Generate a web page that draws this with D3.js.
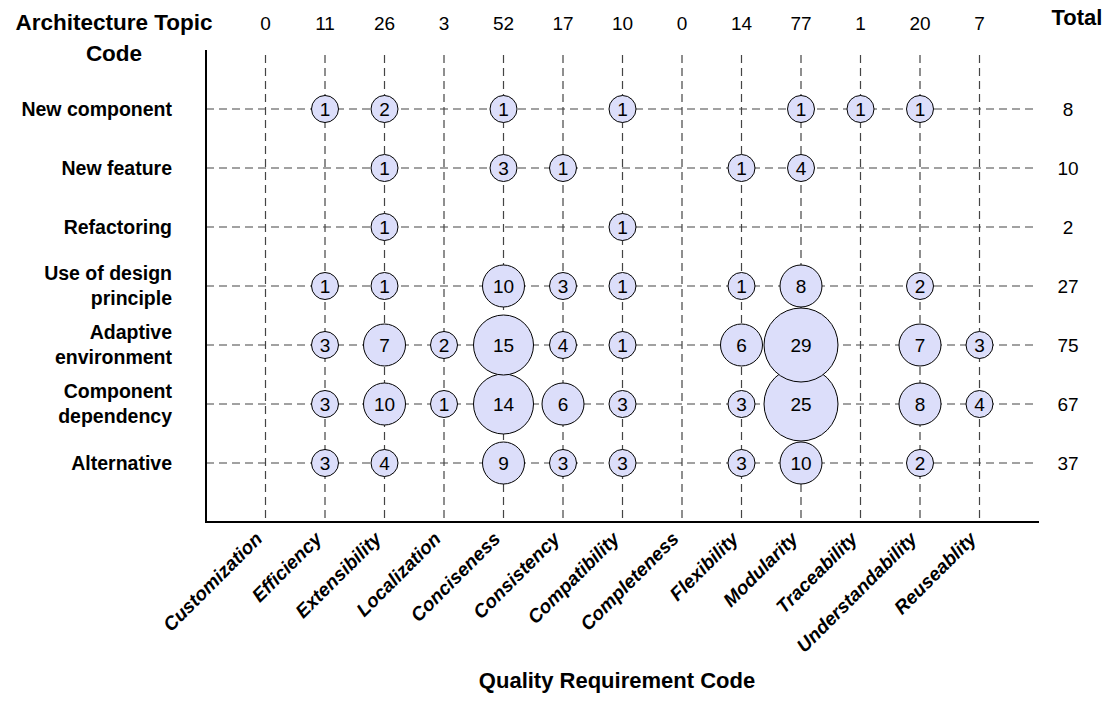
<!DOCTYPE html>
<html>
<head>
<meta charset="utf-8">
<script src="https://cdn.jsdelivr.net/npm/d3@7"></script>
<style>
    body { margin: 0; background: #fff; }
    svg text { font-family: "Liberation Sans", Arial, sans-serif; fill: #000; }
</style>
</head>
<body>
<svg id="chart" width="1112" height="704"></svg>
<script>
// quality requirement codes (x) and architecture topic codes (y)
var qualities = ["Customization", "Efficiency", "Extensibility", "Localization", "Conciseness",
    "Consistency", "Compatibility", "Completeness", "Flexibility", "Modularity",
    "Traceability", "Understandability", "Reuseablity"];
var topics = ["New component", "New feature", "Refactoring", "Use of design principle",
    "Adaptive environment", "Component dependency", "Alternative"];
var topicLines = [["New component"], ["New feature"], ["Refactoring"], ["Use of design", "principle"],
    ["Adaptive", "environment"], ["Component", "dependency"], ["Alternative"]];

// totals as printed on the chart
var columnTotals = [0, 11, 26, 3, 52, 17, 10, 0, 14, 77, 1, 20, 7];
var rowTotals = [8, 10, 2, 27, 75, 67, 37];

// counts per topic row, one value per quality column (0 = no bubble)
var newComponent    = [0, 1, 2, 0, 1, 0, 1, 0, 0, 1, 1, 1, 0];
var newFeature      = [0, 0, 1, 0, 3, 1, 0, 0, 1, 4, 0, 0, 0];
var refactoring     = [0, 0, 1, 0, 0, 0, 1, 0, 0, 0, 0, 0, 0];
var designPrinciple = [0, 1, 1, 0, 10, 3, 1, 0, 1, 8, 0, 2, 0];
var adaptiveEnv     = [0, 3, 7, 2, 15, 4, 1, 0, 6, 29, 0, 7, 3];
var componentDep    = [0, 3, 10, 1, 14, 6, 3, 0, 3, 25, 0, 8, 4];
var alternative     = [0, 3, 4, 0, 9, 3, 3, 0, 3, 10, 0, 2, 0];

var rows = [newComponent, newFeature, refactoring, designPrinciple, adaptiveEnv, componentDep, alternative];

var svg = d3.select("#chart");

var plotLeft = 206, plotRight = 1039, plotTop = 50, plotBottom = 522;

var x = d3.scalePoint().domain(qualities).range([plotLeft, plotRight]).padding(1);
var y = d3.scalePoint().domain(topics).range([109, 463]);

// bubble sizes come in steps
var r = d3.scaleThreshold().domain([5, 11, 20]).range([13.5, 21, 30, 37]);

// flatten to cells
var cells = [];
rows.forEach(function (vals, i) {
    vals.forEach(function (v, j) {
        if (v > 0) cells.push({ topic: topics[i], quality: qualities[j], value: v, row: i });
    });
});

var grid = svg.append("g").attr("class", "grid")
    .style("stroke", "#444")
    .style("stroke-width", 1.2)
    .style("stroke-dasharray", "8,5");

grid.selectAll("line.v")
    .data(qualities)
    .enter()
    .append("line")
    .attr("class", "v")
    .attr("x1", function (d) { return x(d); })
    .attr("x2", function (d) { return x(d); })
    .attr("y1", plotTop + 5)
    .attr("y2", plotBottom);

grid.selectAll("line.h")
    .data(topics)
    .enter()
    .append("line")
    .attr("class", "h")
    .attr("x1", plotLeft)
    .attr("x2", plotRight - 6)
    .attr("y1", function (d) { return y(d); })
    .attr("y2", function (d) { return y(d); });

// axes
svg.append("line")
    .attr("x1", plotLeft).attr("x2", plotLeft)
    .attr("y1", plotTop).attr("y2", plotBottom)
    .style("stroke", "#000").style("stroke-width", 2);
svg.append("line")
    .attr("x1", plotLeft - 1).attr("x2", plotRight)
    .attr("y1", plotBottom).attr("y2", plotBottom)
    .style("stroke", "#000").style("stroke-width", 2);

// bubbles, lower rows first so upper ones sit on top
cells.sort(function (a, b) { return b.row - a.row; });

var bubble = svg.selectAll("g.bubble")
    .data(cells)
    .enter()
    .append("g")
    .attr("class", "bubble")
    .attr("transform", function (d) { return "translate(" + x(d.quality) + "," + y(d.topic) + ")"; });

bubble.append("circle")
    .attr("r", function (d) { return r(d.value); })
    .style("fill", "#dcdefa")
    .style("stroke", "#000")
    .style("stroke-width", 1);

bubble.append("text")
    .attr("text-anchor", "middle")
    .attr("dy", "0.35em")
    .style("font-size", "19px")
    .text(function (d) { return d.value; });

// column totals on top
svg.selectAll("text.coltotal")
    .data(qualities)
    .enter()
    .append("text")
    .attr("class", "coltotal")
    .attr("x", function (d) { return x(d); })
    .attr("y", 30)
    .attr("text-anchor", "middle")
    .style("font-size", "19px")
    .text(function (d, i) { return columnTotals[i]; });

// row totals on the right
svg.selectAll("text.rowtotal")
    .data(topics)
    .enter()
    .append("text")
    .attr("class", "rowtotal")
    .attr("x", 1068)
    .attr("y", function (d) { return y(d); })
    .attr("dy", "0.35em")
    .attr("text-anchor", "middle")
    .style("font-size", "19px")
    .text(function (d, i) { return rowTotals[i]; });

svg.append("text")
    .attr("x", 1077).attr("y", 25)
    .attr("text-anchor", "middle")
    .style("font-size", "22px").style("font-weight", "bold")
    .text("Total");

// row labels
var rowLabel = svg.selectAll("text.rowlabel")
    .data(topics)
    .enter()
    .append("text")
    .attr("class", "rowlabel")
    .attr("text-anchor", "end")
    .style("font-size", "19.5px")
    .style("font-weight", "bold");

rowLabel.each(function (d, i) {
    var lines = topicLines[i];
    var t = d3.select(this);
    lines.forEach(function (line, k) {
        t.append("tspan")
            .attr("x", 172)
            .attr("y", y(d) + (k - (lines.length - 1) / 2) * 25)
            .attr("dy", "0.35em")
            .text(line);
    });
});

// y title
svg.append("text")
    .attr("x", 114).attr("y", 30)
    .attr("text-anchor", "middle")
    .style("font-size", "22.5px").style("font-weight", "bold")
    .text("Architecture Topic");
svg.append("text")
    .attr("x", 114).attr("y", 61)
    .attr("text-anchor", "middle")
    .style("font-size", "22.5px").style("font-weight", "bold")
    .text("Code");

// x tick labels, slanted
svg.selectAll("text.xlabel")
    .data(qualities)
    .enter()
    .append("text")
    .attr("class", "xlabel")
    .attr("text-anchor", "end")
    .attr("transform", function (d) { return "translate(" + (x(d) - 2) + "," + 540 + ") rotate(-45)"; })
    .style("font-size", "19px")
    .style("font-weight", "bold")
    .style("font-style", "italic")
    .text(function (d) { return d; });

// x title
svg.append("text")
    .attr("x", 617).attr("y", 688)
    .attr("text-anchor", "middle")
    .style("font-size", "22px").style("font-weight", "bold")
    .text("Quality Requirement Code");
</script>
</body>
</html>
